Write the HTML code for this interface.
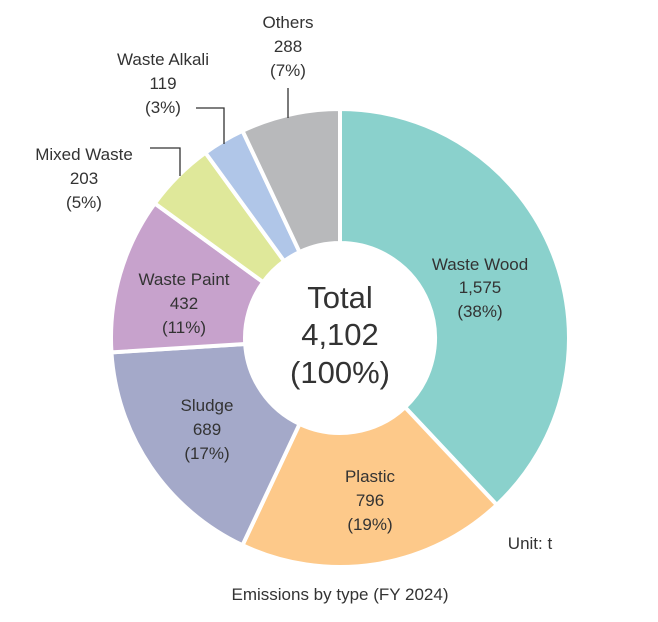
<!DOCTYPE html>
<html><head><style>
html,body{margin:0;padding:0;background:#fff;}
svg{display:block;font-family:"Liberation Sans",sans-serif;}
text{fill:#333;}
</style></head><body>
<svg id="s" width="658" height="622" viewBox="0 0 658 622">
<g id="p"></g>
<g font-size="17" text-anchor="middle">
<text x="480" y="270">Waste Wood</text><text x="480" y="293">1,575</text><text x="480" y="317">(38%)</text>
<text x="370" y="482">Plastic</text><text x="370" y="506">796</text><text x="370" y="530">(19%)</text>
<text x="207" y="411">Sludge</text><text x="207" y="435">689</text><text x="207" y="459">(17%)</text>
<text x="184" y="285">Waste Paint</text><text x="184" y="309">432</text><text x="184" y="333">(11%)</text>
<text x="84" y="160">Mixed Waste</text><text x="84" y="184">203</text><text x="84" y="208">(5%)</text>
<text x="163" y="65">Waste Alkali</text><text x="163" y="89">119</text><text x="163" y="113">(3%)</text>
<text x="288" y="28">Others</text><text x="288" y="52">288</text><text x="288" y="76">(7%)</text>
<text x="340" y="308" font-size="31">Total</text>
<text x="340" y="345" font-size="31">4,102</text>
<text x="340" y="383" font-size="31">(100%)</text>
<text x="530" y="549">Unit: t</text>
<text x="340" y="600">Emissions by type (FY 2024)</text>
</g>
<g stroke="#333" stroke-width="1.3" fill="none">
<polyline points="150,148 180,148 180,176"/>
<polyline points="196,108 224,108 224,144"/>
<polyline points="288,88 288,118"/>
</g>
</svg>
<script>
var v=[38,19,17,11,5,3,7],c=["#8ad1cc","#fdc98a","#a4a9c9","#c7a2cc","#dfe89a","#b0c6e8","#b8b9bb"];
var cx=340,cy=338,R=229,r=95,t=100,a=0,h="";
function pt(rad,ang){return (cx+rad*Math.sin(ang)).toFixed(2)+","+(cy-rad*Math.cos(ang)).toFixed(2);}
for(var i=0;i<v.length;i++){var a0=a*2*Math.PI/t;a+=v[i];var a1=a*2*Math.PI/t;var lg=(a1-a0)>Math.PI?1:0;
h+='<path d="M'+pt(r,a0)+' L'+pt(R,a0)+' A'+R+','+R+' 0 '+lg+' 1 '+pt(R,a1)+' L'+pt(r,a1)+' A'+r+','+r+' 0 '+lg+' 0 '+pt(r,a0)+'Z" fill="'+c[i]+'" stroke="#fff" stroke-width="4" stroke-linejoin="miter"/>';}
document.getElementById("p").innerHTML=h;
</script>
</body></html>
